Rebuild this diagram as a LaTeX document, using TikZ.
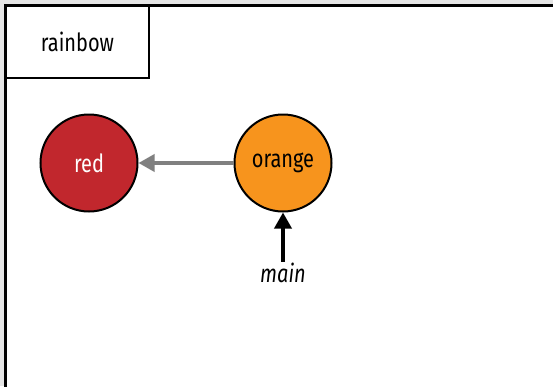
\documentclass[tikz,border=0pt]{standalone}
\usepackage{fontspec}
\setmainfont{Fira Sans}[FakeStretch=0.8]
\usetikzlibrary{arrows.meta,positioning}
\definecolor{rbred}{HTML}{C1272D}
\definecolor{rborange}{HTML}{F7941D}
\begin{document}
\begin{tikzpicture}[x=1pt,y=-1pt,
  c/.style={circle, draw, line width=2pt, minimum size=97pt, inner sep=0pt, font=\fontsize{25}{30}\selectfont},
  arr/.style={-{Triangle[length=16pt,width=17pt]}, line width=3.5pt},
  lab/.style={inner sep=1pt, font=\fontsize{25}{30}\selectfont\itshape}
]
\useasboundingbox (0,0) rectangle (553,386);
\fill[black!10] (0,0) rectangle (553,386);
\clip (0,0) rectangle (553,386);
% outer frame
\draw[line width=3pt, fill=white] (5,5) rectangle (570,400);
\node[draw, line width=2pt, fill=white, minimum width=143pt, minimum height=72pt, anchor=north west, font=\fontsize{25}{30}\selectfont] (tab) at (5,5) {rainbow};

\node[c, fill=rbred, text=white] (red) at (89,163) {red};
\node[c, fill=rborange, right=95pt of red] (orange) {orange};
\node[lab, below=49pt of orange] (main) {main};

\draw[arr, black!50] (orange) -- (red);
\draw[arr] (main) -- (orange);
\end{tikzpicture}
\end{document}
